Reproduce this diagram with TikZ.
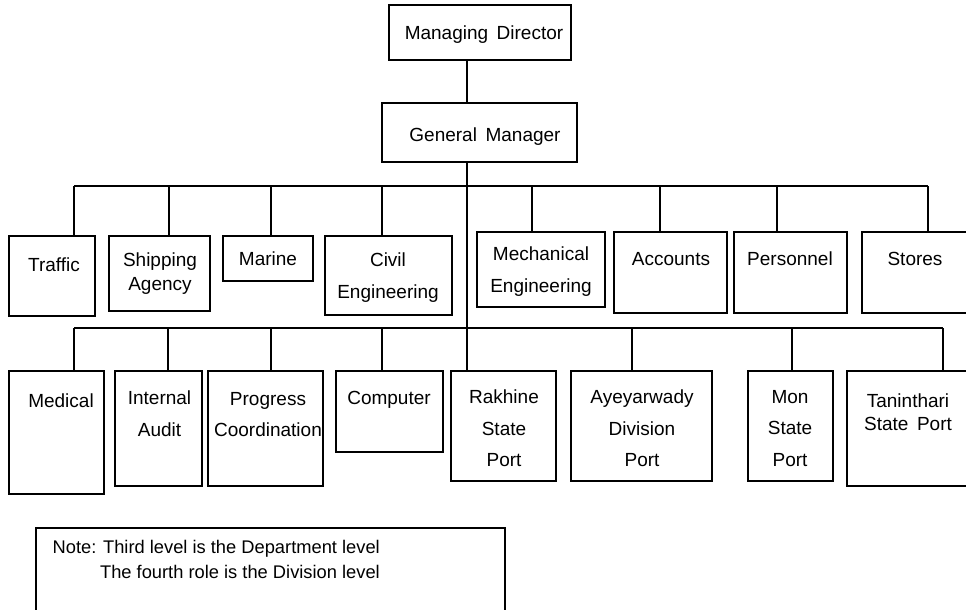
\documentclass[tikz,border=0pt]{standalone}
\usepackage{fontspec}
\setmainfont{Liberation Sans}
\usetikzlibrary{fit}
\begin{document}
\begin{tikzpicture}[x=1pt,y=-1pt,
  box/.style={draw, line width=1.3pt, inner sep=0pt, rectangle},
  txt/.style={inner sep=0pt, align=center, anchor=north, font=\fontsize{19}{31.5}\selectfont},
  tight/.style={font=\fontsize{19}{24}\selectfont},
  wire/.style={line width=1.3pt}]
\useasboundingbox (0,0) rectangle (966,610);
\clip (0,0) rectangle (966,610);

% top levels
\node[box, fit={(389,5)(571,60)}] (md) {};
\node[txt] (mdt) at (484,26) {Managing\hspace{0.45em}Director};
\node[box, fit={(382,103)(577,162)}] (gm) {};
\node[txt] (gmt) at (485,128) {General\hspace{0.45em}Manager};

% third level
\node[box, fit={(9,236)(95,316)}] (traffic) {};
\node[txt] (traffict) at (54,258) {Traffic};
\node[box, fit={(109,236)(210,311)}] (shipping) {};
\node[txt, tight] (shippingt) at (160,253) {Shipping\\Agency};
\node[box, fit={(223,236)(313,281)}] (marine) {};
\node[txt] (marinet) at (268,252) {Marine};
\node[box, fit={(325,236)(452,315)}] (civil) {};
\node[txt, font=\fontsize{19}{32}\selectfont] (civilt) at (388,253) {Civil\\Engineering};
\node[box, fit={(477,232)(605,307)}] (mech) {};
\node[txt] (mecht) at (541,247) {Mechanical\\Engineering};
\node[box, fit={(614,232)(727,313)}] (accounts) {};
\node[txt] (accountst) at (671,252) {Accounts};
\node[box, fit={(734,232)(847,313)}] (personnel) {};
\node[txt] (personnelt) at (790,252) {Personnel};
\node[box, fit={(862,232)(970,313)}] (stores) {};
\node[txt] (storest) at (915,252) {Stores};

% fourth level
\node[box, fit={(9,371)(104,494)}] (medical) {};
\node[txt] (medicalt) at (61,394) {Medical};
\node[box, fit={(115,371)(202,486)}] (audit) {};
\node[txt] (auditt) at (159.5,391) {Internal\\Audit};
\node[box, fit={(208,371)(323,486)}] (progress) {};
\node[txt] (progresst) at (268,392) {Progress\\Coordination};
\node[box, fit={(336,371)(443,452)}] (computer) {};
\node[txt] (computert) at (389,391) {Computer};
\node[box, fit={(451,371)(556,481)}] (rakhine) {};
\node[txt] (rakhinet) at (504,390) {Rakhine\\State\\Port};
\node[box, fit={(571,371)(712,481)}] (ayeyarwady) {};
\node[txt] (ayeyarwadyt) at (642,390) {Ayeyarwady\\Division\\Port};
\node[box, fit={(748,371)(833,481)}] (mon) {};
\node[txt] (mont) at (790,390) {Mon\\State\\Port};
\node[box, fit={(847,371)(970,486)}] (taninthari) {};
\node[txt, font=\fontsize{19}{23}\selectfont] (tanintharit) at (908,394) {Taninthari\\State\hspace{0.45em}Port};

% note
\node[box, fit={(36,528)(505,620)}] (note) {};
\node[inner sep=0pt, align=right, anchor=north east, font=\fontsize{18.3}{25}\selectfont] (notet) at (380,540)
  {Note: Third level is the Department level\\The fourth role is the Division level};

% connectors
\coordinate (trunk) at (467,0);
\draw[wire] (md.south -| trunk) -- (gm.north -| trunk);
\draw[wire] (gm.south -| trunk) -- (rakhine.north -| trunk);

\coordinate (busA) at (74,186);
\coordinate (busB) at (928,186);
\draw[wire] (busA) -- (busB);
\foreach \x/\n in {74/traffic,169/shipping,271/marine,382/civil,532/mech,660/accounts,777/personnel,928/stores}{
  \coordinate (s-\n) at (\x,186);
  \draw[wire] (s-\n) -- (s-\n |- \n.north);
}

\coordinate (busC) at (74,328);
\coordinate (busD) at (943,328);
\draw[wire] (busC) -- (busD);
\foreach \x/\n in {74/medical,168/audit,271/progress,382/computer,632/ayeyarwady,792/mon,943/taninthari}{
  \coordinate (t-\n) at (\x,328);
  \draw[wire] (t-\n) -- (t-\n |- \n.north);
}
\end{tikzpicture}
\end{document}
